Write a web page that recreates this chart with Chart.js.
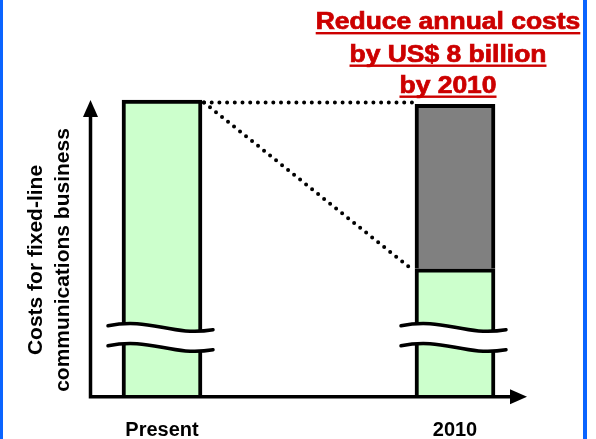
<!DOCTYPE html>
<html>
<head>
<meta charset="utf-8">
<script src="https://cdn.jsdelivr.net/npm/chart.js@4/dist/chart.umd.min.js"></script>
<style>
  html, body { margin: 0; padding: 0; background: #fff; }
  #wrap { position: relative; width: 596px; height: 439px; }
</style>
</head>
<body>
<div id="wrap"><canvas id="costChart"></canvas></div>
<script>
// cost index, present level = 100 (the axis is broken, so units are relative)
var periods = ['Present', '2010'];
var remainingCost = [100, 43];
var costReduction = [null, 55.5];
var breakLevel = 20;

var titleLines = ['Reduce annual costs', 'by US$ 8 billion', 'by 2010'];
var axisTitleLines = ['Costs for fixed-line', 'communications business'];

var FONT = '"Liberation Sans", Arial, Helvetica, sans-serif';
var GREEN = '#ccffcc';
var GRAY = '#808080';
var RED = '#cc0000';
var BLUE = '#0a64ff';

function arrowHead(ctx, tipX, tipY, dx, dy) {
  // triangle pointing in direction (dx, dy)
  var len = 17, half = 7.5;
  var bx = tipX - dx * len, by = tipY - dy * len;
  ctx.beginPath();
  ctx.moveTo(tipX, tipY);
  ctx.lineTo(bx - dy * half, by + dx * half);
  ctx.lineTo(bx + dy * half, by - dx * half);
  ctx.closePath();
  ctx.fill();
}

function wave(ctx, x0, x1, y) {
  var w = x1 - x0;
  ctx.moveTo(x0, y);
  ctx.bezierCurveTo(x0 + w * 0.4, y - 9, x0 + w * 0.6, y + 11, x1, y + 4);
}

var decor = {
  id: 'decor',
  beforeDraw: function (chart) {
    var ctx = chart.ctx;
    ctx.save();
    ctx.fillStyle = '#fff';
    ctx.fillRect(0, 0, chart.width, chart.height);
    ctx.fillStyle = BLUE;
    ctx.fillRect(0, 0, 3, chart.height);
    ctx.fillRect(583, 0, 4, chart.height);
    ctx.restore();
  },
  afterDatasetsDraw: function (chart) {
    var ctx = chart.ctx;
    var area = chart.chartArea;
    var y = chart.scales.y;
    var bars = chart.getDatasetMeta(0).data;
    var first = bars[0], last = bars[1];
    var firstRight = first.x + first.width / 2;
    var lastLeft = last.x - last.width / 2;
    var topY = y.getPixelForValue(remainingCost[0]) + 2.5;
    var splitY = y.getPixelForValue(remainingCost[1]) + 1.5;

    ctx.save();
    // dotted guide lines from the present level
    ctx.strokeStyle = '#000';
    ctx.lineWidth = 4;
    ctx.lineCap = 'round';
    ctx.setLineDash([0, 7.7]);
    ctx.beginPath();
    ctx.moveTo(firstRight + 2, topY);
    ctx.lineTo(lastLeft - 2, topY);
    ctx.stroke();
    ctx.beginPath();
    ctx.moveTo(firstRight + 2, topY);
    ctx.lineTo(lastLeft - 2, splitY);
    ctx.stroke();
    ctx.setLineDash([]);

    // axis break marks across both bars
    var by = y.getPixelForValue(breakLevel) - 11;
    bars.forEach(function (bar) {
      var x0 = bar.x - bar.width / 2 - 14;
      var x1 = bar.x + bar.width / 2 + 11;
      ctx.beginPath();
      wave(ctx, x0, x1, by);
      ctx.lineTo(x1, by + 24);
      ctx.bezierCurveTo(x0 + (x1 - x0) * 0.6, by + 31, x0 + (x1 - x0) * 0.4, by + 11, x0, by + 20);
      ctx.closePath();
      ctx.fillStyle = '#fff';
      ctx.fill();
      ctx.lineWidth = 3.5;
      ctx.strokeStyle = '#000';
      ctx.beginPath();
      wave(ctx, x0, x1, by);
      ctx.stroke();
      ctx.beginPath();
      wave(ctx, x0, x1, by + 20);
      ctx.stroke();
    });

    // axes with arrow heads
    var ax = area.left - 71.5;
    var ay = area.bottom + 0.7;
    ctx.fillStyle = '#000';
    ctx.lineWidth = 3.5;
    ctx.lineCap = 'butt';
    ctx.beginPath();
    ctx.moveTo(ax, ay + 1.75);
    ctx.lineTo(ax, area.top + 10);
    ctx.moveTo(ax - 1.75, ay);
    ctx.lineTo(area.right + 65, ay);
    ctx.stroke();
    arrowHead(ctx, ax, area.top, 0, -1);
    arrowHead(ctx, area.right + 72, ay, 1, 0);
    ctx.restore();
  },
  afterDraw: function (chart) {
    var ctx = chart.ctx;
    ctx.save();
    // headline, underlined
    ctx.fillStyle = RED;
    ctx.strokeStyle = RED;
    ctx.lineWidth = 0.7;
    ctx.font = 'bold 23px ' + FONT;
    ctx.textAlign = 'center';
    ctx.textBaseline = 'alphabetic';
    var baselines = [29, 61.5, 92.5];
    var sx = 1.15;
    titleLines.forEach(function (line, i) {
      var w = ctx.measureText(line).width * sx;
      ctx.save();
      ctx.translate(448, baselines[i]);
      ctx.scale(sx, 1);
      ctx.fillText(line, 0, 0);
      ctx.strokeText(line, 0, 0);
      ctx.restore();
      ctx.fillRect(448 - w / 2, baselines[i] + 3, w, 2.4);
    });

    // rotated value axis title
    ctx.fillStyle = '#000';
    ctx.font = 'bold 21px ' + FONT;
    ctx.textBaseline = 'middle';
    var xs = [36, 63];
    axisTitleLines.forEach(function (line, i) {
      ctx.save();
      ctx.translate(xs[i], 260);
      ctx.rotate(-Math.PI / 2);
      ctx.fillText(line, 0, 0);
      ctx.restore();
    });
    ctx.restore();
  }
};

new Chart(document.getElementById('costChart'), {
  type: 'bar',
  data: {
    labels: periods,
    datasets: [{
      label: 'Remaining costs',
      data: remainingCost,
      backgroundColor: GREEN,
      borderColor: '#000',
      borderWidth: 4,
      barThickness: 80,
      clip: false
    }, {
      label: 'Cost reduction',
      data: costReduction,
      backgroundColor: GRAY,
      borderColor: '#000',
      borderWidth: 4,
      barThickness: 80,
      clip: false
    }]
  },
  options: {
    responsive: true,
    maintainAspectRatio: false,
    animation: false,
    layout: { padding: { left: 162, right: 141, top: 100, bottom: 0 } },
    plugins: {
      legend: { display: false },
      tooltip: { enabled: false },
      title: { display: false }
    },
    scales: {
      x: {
        stacked: true,
        offset: false,
        grid: { display: false, drawTicks: false },
        border: { display: false },
        ticks: {
          color: '#000',
          font: { family: FONT, size: 20, weight: 'bold' },
          padding: 22,
          maxRotation: 0,
          autoSkip: false
        },
        afterFit: function (scale) { scale.height = 43; }
      },
      y: {
        stacked: true,
        display: false,
        min: 0,
        max: 100
      }
    }
  },
  plugins: [decor]
});
</script>
</body>
</html>
